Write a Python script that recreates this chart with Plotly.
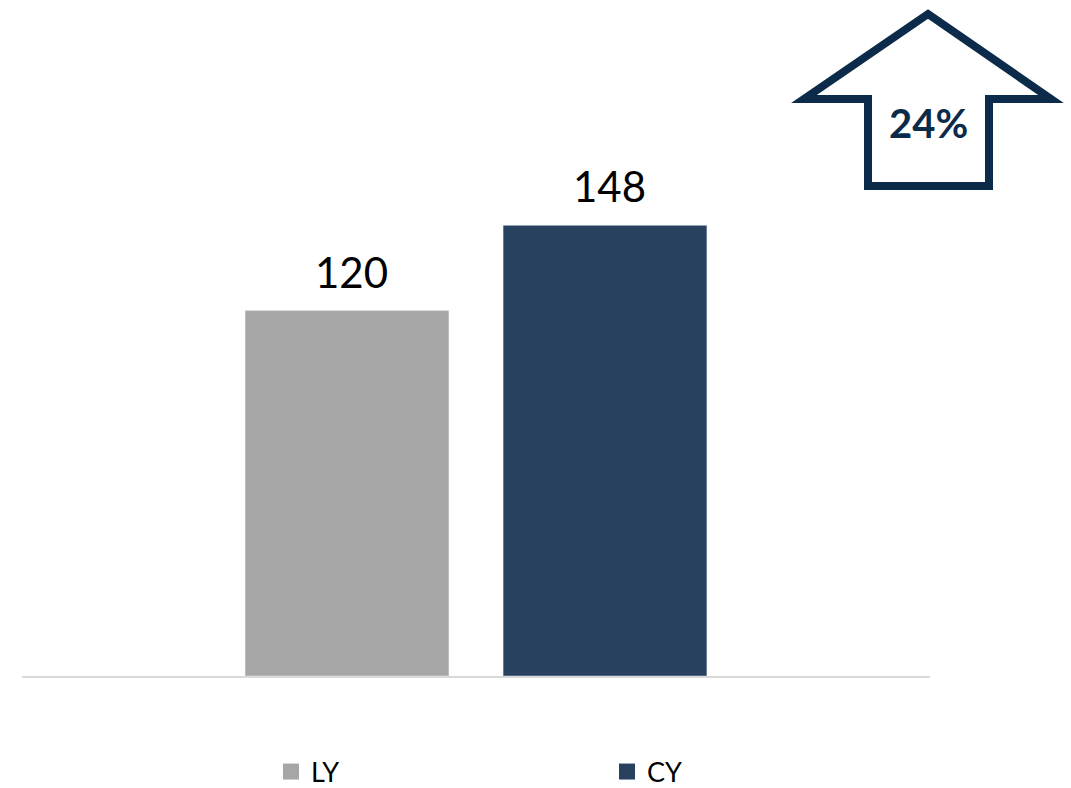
import plotly.graph_objects as go

categories = ["LY", "CY"]
values = [120, 148]
colors = ["#A6A6A6", "#27415F"]
change_label = "24%"

# plot-area pixel geometry (for decorative arrow placement)
PL, PR, PT, PB = 22, 930, 67, 676
def fx(px):
    return (px - PL) / (PR - PL)
def fy(py):
    return (PB - py) / (PB - PT)

fig = go.Figure()
for cat, val, col in zip(categories, values, colors):
    fig.add_trace(go.Bar(x=[cat], y=[val], marker_color=col, width=0.79,
                         showlegend=False, hoverinfo="skip"))
    fig.add_trace(go.Scatter(x=[None], y=[None], mode="markers", name=cat,
                             marker=dict(symbol="square", size=18, color=col)))
    fig.add_annotation(x=cat, y=val, text=str(val), showarrow=False,
                       yanchor="bottom", yshift=12, xshift=4,
                       font=dict(family="Lato", size=42, color="#000000"))

arrow_pts = [(928, 14), (1051, 99), (989, 99), (989, 186), (868, 186), (868, 99), (804, 99)]
path = "M " + " L ".join(f"{fx(x):.5f},{fy(y):.5f}" for x, y in arrow_pts) + " Z"
fig.add_shape(type="path", xref="paper", yref="paper", path=path,
              line=dict(color="#0C2B4B", width=8), fillcolor="rgba(0,0,0,0)")
fig.add_annotation(xref="paper", yref="paper", x=fx(928), y=fy(123), text=f"<b>{change_label}</b>",
                   showarrow=False, xanchor="center", yanchor="middle",
                   font=dict(family="Lato", size=40, color="#0C2B4B"))

fig.update_layout(
    width=1071, height=788,
    margin=dict(l=PL, r=1071 - PR, t=PT, b=788 - PB, autoexpand=False),
    paper_bgcolor="white", plot_bgcolor="white",
    barmode="overlay",
    showlegend=True,
    legend=dict(orientation="h", x=fx(271), y=-(772 - PB) / (PB - PT), xanchor="left", yanchor="middle",
                itemsizing="trace", entrywidth=291, entrywidthmode="pixels",
                font=dict(family="Lato", size=27, color="#000000")),
    xaxis=dict(range=[-1.2597, 2.2597], showticklabels=False, ticks="", showgrid=False,
               showline=True, linecolor="#D9D9D9", linewidth=2, zeroline=False, fixedrange=True),
    yaxis=dict(range=[0, 200], visible=False, showgrid=False, zeroline=False, fixedrange=True),
)
fig.write_html("out.html", post_script="document.body.style.margin='0';",
               config={"displayModeBar": False})
